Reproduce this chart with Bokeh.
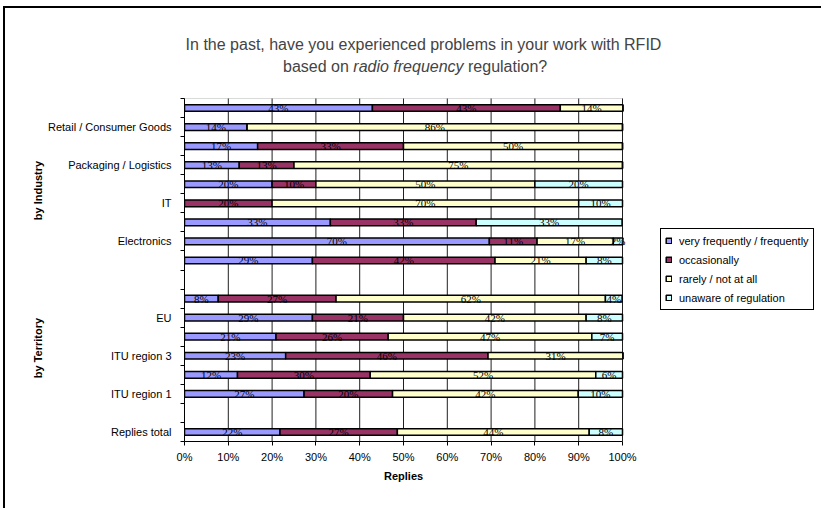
import math
from bokeh.plotting import figure
from bokeh.models import (ColumnDataSource, Range1d, FixedTicker, Label, LabelSet,
                          Legend, LegendItem, LinearAxis, Title, BoxAnnotation)
from bokeh.embed import file_html
from bokeh.resources import INLINE

# ---------------- data (top row first) ----------------
categories = ["", "Retail / Consumer Goods", "", "Packaging / Logistics", "", "IT", "",
              "Electronics", "", "", "", "EU", "", "ITU region 3", "", "ITU region 1", "",
              "Replies total"]
series_names = ["very frequently / frequently", "occasionally", "rarely / not at all",
                "unaware of regulation"]
very_frequently = [42.9, 14.3, 16.7, 12.5, 20.0, 0.0, 33.3, 69.6, 29.2, None,
                   7.7, 29.2, 20.9, 23.1, 12.1, 27.3, None, 21.8]
occasionally = [42.9, 0.0, 33.3, 12.5, 10.0, 20.0, 33.3, 10.9, 41.7, None,
                26.9, 20.8, 25.6, 46.2, 30.3, 20.2, None, 26.8]
rarely = [14.3, 85.7, 50.0, 75.0, 50.0, 70.0, 0.0, 17.4, 20.8, None,
          61.5, 41.7, 46.5, 30.8, 51.5, 42.4, None, 43.8]
unaware = [0.0, 0.0, 0.0, 0.0, 20.0, 10.0, 33.3, 2.2, 8.3, None,
           3.8, 8.3, 7.0, 0.0, 6.1, 10.1, None, 7.6]
colors = ["#9999FF", "#993366", "#FFFFCC", "#CCFFFF"]
x_ticks = [0, 10, 20, 30, 40, 50, 60, 70, 80, 90, 100]
x_tick_labels = ["0%", "10%", "20%", "30%", "40%", "50%", "60%", "70%", "80%", "90%", "100%"]
title_line1 = "In the past, have you experienced problems in your work with RFID"
title_line2 = ["based on", "radio frequency", "regulation?"]
group_labels = ["by Industry", "by Territory"]
x_title = "Replies"

FONT = "Liberation Sans"
N = len(categories)

# ---------------- layout helpers (page px -> data) ----------------
OX, OY = 5, 8            # figure origin on page (css margin)
W, H = 818, 502
FL, FR, FT, FB = 184, 622, 98, 441   # plot-area edges on page


def px2x(px):
    return (px - FL) / (FR - FL) * 100.0


def py2y(py):
    return (py - FT) / (FB - FT) * N


# ---------------- sources ----------------
series = [very_frequently, occasionally, rarely, unaware]
keys = ["vf", "oc", "ra", "un"]
bar = {"y": []}
for k in keys:
    bar[k] = []
lab = {"x": [], "y": [], "text": []}
for i in range(N):
    if very_frequently[i] is None:
        continue
    yc = i + 0.5
    bar["y"].append(yc)
    cum = 0.0
    for k, s in zip(keys, series):
        v = s[i]
        bar[k].append(v)
        if v > 0:
            lab["x"].append(cum + v / 2.0)
            lab["y"].append(yc)
            lab["text"].append("%d%%" % int(v + 0.5))
        cum += v
src = ColumnDataSource(bar)
lsrc = ColumnDataSource(lab)

# frame reaches the right and top edges so that title and legend sit inside it
p = figure(width=W, height=H,
           x_range=Range1d(0, px2x(OX + W)), y_range=Range1d(N, py2y(OY)),
           output_backend="svg", toolbar_location=None,
           min_border_left=FL - OX, min_border_right=0,
           min_border_top=0, min_border_bottom=H - (FB - OY))
p.styles = {"margin-left": "%dpx" % OX, "margin-top": "%dpx" % OY,
            "box-shadow": "-2px -2px 0px 0px #000000"}
p.background_fill_color = "white"
p.border_fill_color = "white"
p.outline_line_color = None
p.xgrid.visible = False
p.ygrid.visible = False

# vertical gridlines and plot-area border
p.segment(x0=x_ticks, y0=[0] * len(x_ticks), x1=x_ticks, y1=[N] * len(x_ticks),
          line_color="#202020", line_width=1)
p.add_layout(BoxAnnotation(left=0, right=100, top=0, bottom=N, fill_alpha=0,
                           line_color="#808080", line_width=1, level="underlay"))

renderers = p.hbar_stack(keys, y="y", height=0.35, fill_color=colors,
                         line_color="black", line_width=1.5, source=src)

p.add_layout(LabelSet(x="x", y="y", text="text", source=lsrc, text_align="center",
                      text_baseline="middle", text_font=FONT, text_font_size="11px",
                      text_color="black"))

# axes
p.xaxis.bounds = (0, 100)
p.xaxis.ticker = FixedTicker(ticks=x_ticks)
p.xaxis.major_label_overrides = {t: l for t, l in zip(x_ticks, x_tick_labels)}
p.xaxis.major_tick_out = 4
p.xaxis.major_tick_in = 0
p.xaxis.major_label_standoff = 5

lab_ticks = [i + 0.5 for i, c in enumerate(categories) if c]
p.yaxis.bounds = (0, N)
p.yaxis.ticker = FixedTicker(ticks=lab_ticks, minor_ticks=list(range(N + 1)))
p.yaxis.major_label_overrides = {i + 0.5: c for i, c in enumerate(categories) if c}
p.yaxis.major_tick_out = 0
p.yaxis.major_tick_in = 0
p.yaxis.minor_tick_out = 4
p.yaxis.minor_tick_in = 0
p.yaxis.major_label_standoff = 9

for ax in (p.xaxis, p.yaxis):
    ax.axis_line_color = "black"
    ax.major_tick_line_color = "black"
    ax.minor_tick_line_color = "black"
    ax.major_label_text_font = FONT
    ax.major_label_text_font_size = "11px"
    ax.major_label_text_color = "black"
p.xaxis.minor_tick_line_color = None

# outer category level (group labels) as a second left axis;
# rotated labels are end-anchored at the tick, so shift by half their length
gpos = [py2y(190 - 29.6), py2y(348 - 30.6)]
gaxis = LinearAxis(ticker=FixedTicker(ticks=gpos),
                   major_label_overrides={y: t for y, t in zip(gpos, group_labels)},
                   major_label_orientation=math.pi / 2, bounds=(0, N),
                   axis_line_color=None, major_tick_line_color=None,
                   minor_tick_line_color=None, major_tick_out=0, major_tick_in=0,
                   major_label_standoff=7, major_label_text_font=FONT,
                   major_label_text_font_size="11px", major_label_text_font_style="bold",
                   major_label_text_color="black")
p.add_layout(gaxis, "left")

# x axis title
p.add_layout(Title(text=x_title, align="left", offset=383.5 - FL, standoff=4,
                   text_font=FONT, text_font_size="11px", text_font_style="bold",
                   text_color="black"), "below")

# legend
legend = Legend(items=[LegendItem(label=n, renderers=[r]) for n, r in zip(series_names, renderers)],
                location=(660 - FL, FB - 310),
                border_line_color="black", border_line_width=1, border_line_alpha=1,
                background_fill_color="white", background_fill_alpha=1,
                label_text_font=FONT, label_text_font_size="11px", label_text_color="black",
                glyph_width=7, glyph_height=7, label_standoff=7,
                label_height=15, spacing=4, padding=4, margin=0)
p.add_layout(legend)

# chart title (two lines, partly italic)
p.add_layout(Label(x=px2x(423), y=py2y(44), text=title_line1, text_align="center",
                   text_baseline="alphabetic", text_font=FONT, text_font_size="16px"))
x0 = 282.5
p.add_layout(Label(x=px2x(x0), y=py2y(66), text=title_line2[0], text_align="left",
                   text_baseline="alphabetic", text_font=FONT, text_font_size="16px"))
p.add_layout(Label(x=px2x(x0 + 70.3), y=py2y(66), text=title_line2[1], text_align="left",
                   text_baseline="alphabetic", text_font=FONT, text_font_size="16px",
                   text_font_style="italic"))
p.add_layout(Label(x=px2x(x0 + 70.3 + 110.3 + 4.4), y=py2y(66), text=title_line2[2],
                   text_align="left", text_baseline="alphabetic", text_font=FONT,
                   text_font_size="16px"))

open("out.html", "w").write(file_html(p, INLINE))
